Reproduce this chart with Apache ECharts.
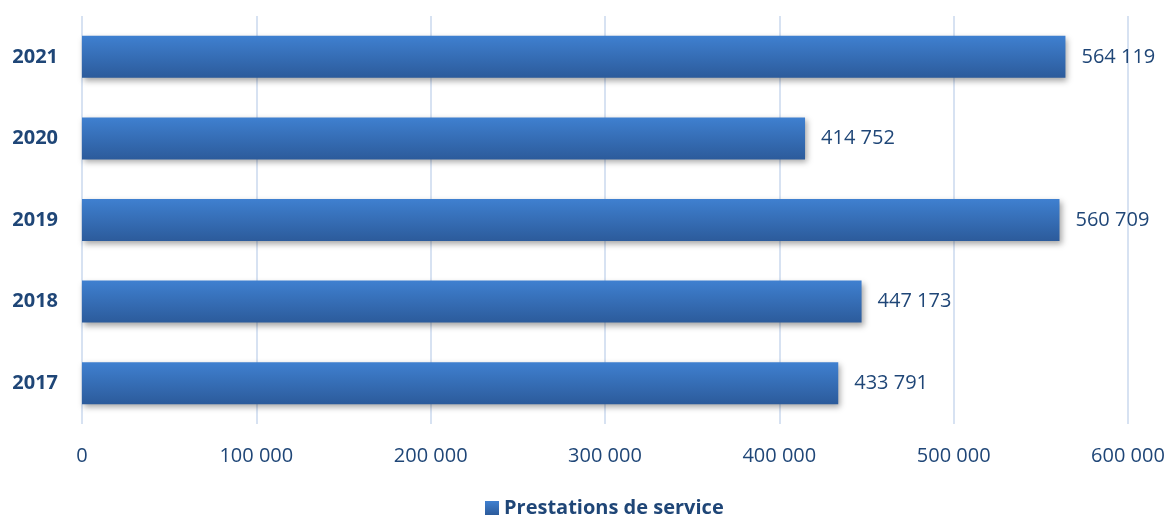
<!DOCTYPE html>
<html>
<head>
<meta charset="utf-8">
<script src="https://cdn.jsdelivr.net/npm/echarts@6/dist/echarts.min.js"></script>
<style>
  html, body { margin: 0; padding: 0; background: #fff; }
  #chart { width: 1170px; height: 516px; }
</style>
</head>
<body>
<div id="chart"></div>
<script>
const years = ["2017", "2018", "2019", "2020", "2021"];
const prestations = [433791, 447173, 560709, 414752, 564119];
const seriesName = "Prestations de service";

const textColor = "#1f4677";
const fmt = (v) => String(v).replace(/\B(?=(\d{3})+(?!\d))/g, " ");

const chart = echarts.init(document.getElementById("chart"), null, { renderer: "canvas" });

const barFill = new echarts.graphic.LinearGradient(0, 0, 0, 1, [
  { offset: 0, color: "#3f80d0" },
  { offset: 1, color: "#2c5b9b" },
]);

chart.setOption({
  animation: false,
  grid: { left: 82, right: 42, top: 16, bottom: 92 },
  xAxis: {
    type: "value",
    min: 0,
    max: 600000,
    interval: 100000,
    axisLine: { show: false },
    axisTick: { show: false },
    splitLine: { lineStyle: { color: "#d7e2f2", width: 2 } },
    axisLabel: {
      color: textColor,
      fontFamily: "Open Sans",
      fontSize: 20,
      margin: 22,
      formatter: fmt,
    },
  },
  yAxis: {
    type: "category",
    data: years,
    axisLine: { show: false },
    axisTick: { show: false },
    axisLabel: {
      color: textColor,
      fontFamily: "Open Sans",
      fontWeight: "bold",
      fontSize: 20,
      margin: 24,
    },
  },
  legend: {
    bottom: -7,
    left: 480,
    itemWidth: 14,
    itemHeight: 14,
    icon: "rect",
    itemGap: 6,
    textStyle: {
      color: textColor,
      fontFamily: "Open Sans",
      fontWeight: "bold",
      fontSize: 20,
    },
    data: [seriesName],
  },
  series: [
    {
      name: seriesName,
      type: "bar",
      data: prestations,
      barWidth: 42,
      itemStyle: {
        color: barFill,
        shadowColor: "rgba(0,0,0,0.35)",
        shadowBlur: 6,
        shadowOffsetX: 2,
        shadowOffsetY: 3,
      },
      label: {
        show: true,
        position: "right",
        distance: 16,
        color: textColor,
        fontFamily: "Open Sans",
        fontSize: 20,
        formatter: (p) => fmt(p.value),
      },
    },
  ],
});
</script>
</body>
</html>
